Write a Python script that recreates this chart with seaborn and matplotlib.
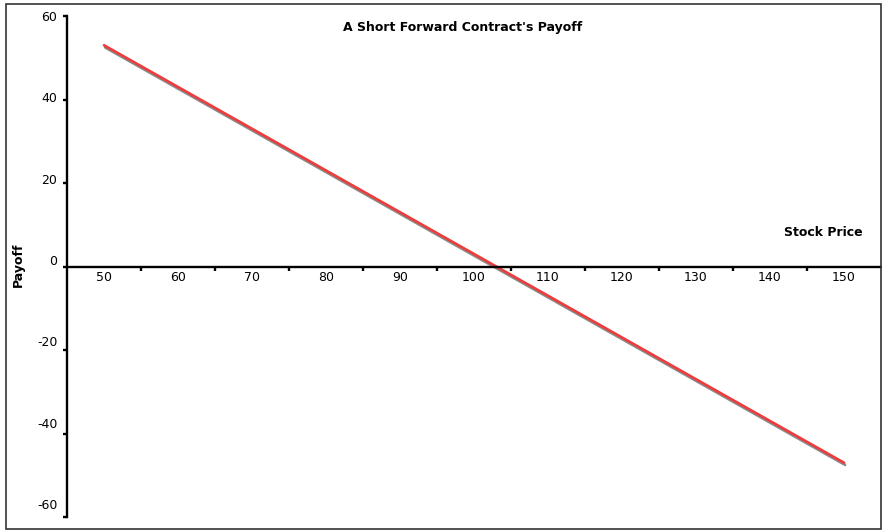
import matplotlib
matplotlib.use("Agg")
import matplotlib.pyplot as plt
import matplotlib.patheffects as pe
from matplotlib.patches import Rectangle
from matplotlib.transforms import ScaledTranslation
import numpy as np
import pandas as pd
import seaborn as sns

# payoff of a short forward
stock_price = [50, 60, 70, 80, 90, 100, 110, 120, 130, 140, 150]
payoff = [53, 43, 33, 23, 13, 3, -7, -17, -27, -37, -47]
y_ticks = [-60, -40, -20, 0, 20, 40, 60]

df = pd.DataFrame({"pos": np.arange(len(stock_price)), "payoff": payoff})

sns.set_style("white", {"text.color": "black", "xtick.color": "black", "ytick.color": "black"})
plt.rcParams["font.family"] = ["DejaVu Sans"]

fig = plt.figure(figsize=(8.82, 5.31), dpi=100)
ax = fig.add_axes([67 / 882, 14 / 531, (881 - 67) / 882, (517 - 16) / 531])

sns.lineplot(data=df, x="pos", y="payoff", ax=ax, color="#ee3b3b", linewidth=1.9,
             path_effects=[pe.SimpleLineShadow(offset=(0.8, -1.6), shadow_color="#8a8a8a", alpha=1.0),
                           pe.Normal()])

ax.set_xlim(-0.5, len(stock_price) - 0.5)
ax.set_ylim(-60, 60)

# excel style category axis crossing at zero
for s in ["top", "right"]:
    ax.spines[s].set_visible(False)
ax.spines["bottom"].set_position(("data", 0))
for s in ["bottom", "left"]:
    ax.spines[s].set_linewidth(1.7)
    ax.spines[s].set_color("black")

ax.set_xticks(df["pos"])
ax.set_xticklabels([str(v) for v in stock_price], fontsize=9, color="black")
ax.set_xticks(np.arange(0.5, len(stock_price) - 0.5, 1), minor=True)
ax.tick_params(axis="x", which="major", length=0, pad=3)
ax.tick_params(axis="x", which="minor", bottom=True, direction="out", length=3, width=1.7, color="black")

ax.set_yticks(y_ticks)
ax.set_yticklabels([str(v) for v in y_ticks], fontsize=9, color="black")
ax.tick_params(axis="y", which="major", left=True, direction="out", length=3, width=1.7, color="black", pad=4)
# excel draws the value labels drifting upward toward the bottom
for v, lab in zip(y_ticks, ax.get_yticklabels()):
    shift = (60 - v) / 120 * 13 / 100
    lab.set_transform(lab.get_transform() + ScaledTranslation(0, shift, fig.dpi_scale_trans))

ax.set_xlabel("")
ax.set_ylabel("")
ax.grid(False)

fig.text(463 / 882, 1 - 27 / 531, "A Short Forward Contract's Payoff", ha="center", va="center",
         fontsize=9, fontweight="bold", color="black")
fig.text(823 / 882, 1 - 233 / 531, "Stock Price", ha="center", va="center", fontsize=9,
         fontweight="bold", color="black")
fig.text(18 / 882, 1 - 265 / 531, "Payoff", ha="center", va="center", rotation=90, fontsize=9,
         fontweight="bold", color="black")

fig.patches.append(Rectangle((6 / 882, 2 / 531), 875 / 882, 525 / 531, transform=fig.transFigure,
                             fill=False, edgecolor="#333333", linewidth=1.2))

fig.savefig("out.png", dpi=100)
